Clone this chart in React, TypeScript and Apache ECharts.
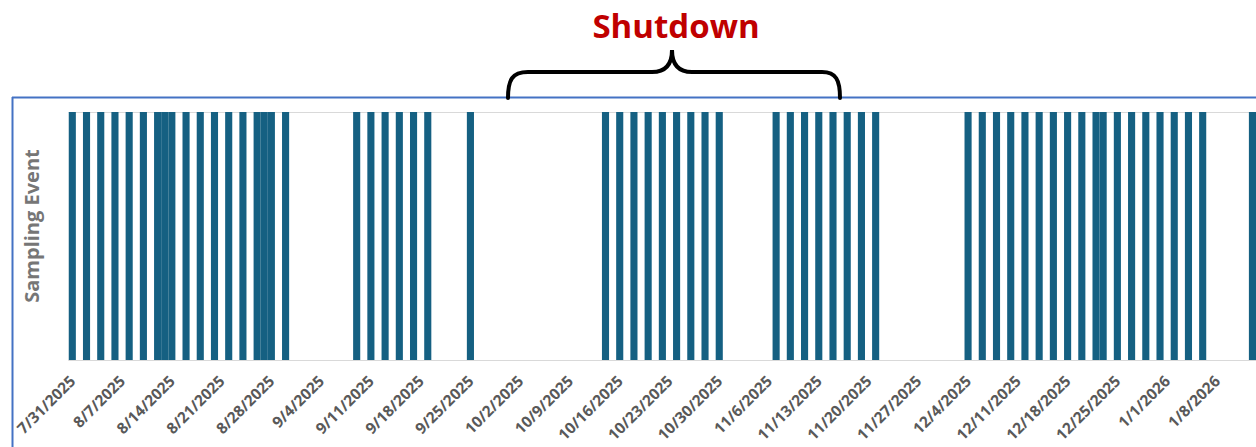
import React, { useEffect, useRef } from "react";
import * as echarts from "echarts";

// ---- data ----
const AXIS_START = { y: 2025, m: 7, d: 31 }; // first day on the date axis
const AXIS_END = { y: 2026, m: 1, d: 13 }; // last day on the date axis
const TICK_LABEL_EVERY = 7; // a tick label every 7 days, starting at the first day

const SAMPLING_DATES: string[] = [
  "7/31/2025", "8/2/2025", "8/4/2025", "8/6/2025", "8/8/2025", "8/10/2025",
  "8/12/2025", "8/13/2025", "8/14/2025", "8/16/2025", "8/18/2025", "8/20/2025",
  "8/22/2025", "8/24/2025", "8/26/2025", "8/27/2025", "8/28/2025", "8/30/2025",
  "9/9/2025", "9/11/2025", "9/13/2025", "9/15/2025", "9/17/2025", "9/19/2025",
  "9/25/2025",
  "10/14/2025", "10/16/2025", "10/18/2025", "10/20/2025", "10/22/2025",
  "10/24/2025", "10/26/2025", "10/28/2025", "10/30/2025",
  "11/7/2025", "11/9/2025", "11/11/2025", "11/13/2025", "11/15/2025",
  "11/17/2025", "11/19/2025", "11/21/2025",
  "12/4/2025", "12/6/2025", "12/8/2025", "12/10/2025", "12/12/2025",
  "12/14/2025", "12/16/2025", "12/18/2025", "12/20/2025", "12/22/2025",
  "12/23/2025", "12/25/2025", "12/27/2025", "12/29/2025", "12/31/2025",
  "1/2/2026", "1/4/2026", "1/6/2026", "1/13/2026",
];

const Y_AXIS_TITLE = "Sampling Event";
const ANNOTATION_TEXT = "Shutdown";

// ---- brace shape ----
const BRACE_D =
  "M 508 98 C 508 80 512 72 528 72 L 652 72 C 665 72 672 65 672 50 " +
  "C 672 65 679 72 692 72 L 822 72 C 836 72 840 80 840 98";
echarts.graphic.registerShape("brace", echarts.graphic.extendPath(BRACE_D, {}));

function buildCategories(): string[] {
  const out: string[] = [];
  const cur = new Date(Date.UTC(AXIS_START.y, AXIS_START.m - 1, AXIS_START.d));
  const end = Date.UTC(AXIS_END.y, AXIS_END.m - 1, AXIS_END.d);
  while (cur.getTime() <= end) {
    out.push(`${cur.getUTCMonth() + 1}/${cur.getUTCDate()}/${cur.getUTCFullYear()}`);
    cur.setUTCDate(cur.getUTCDate() + 1);
  }
  return out;
}

export default function App() {
  const ref = useRef<HTMLDivElement>(null);

  useEffect(() => {
    if (!ref.current) return;
    const chart = echarts.init(ref.current, undefined, { renderer: "svg" });
    const categories = buildCategories();
    const sampled = new Set(SAMPLING_DATES);
    const values = categories.map((c) => (sampled.has(c) ? 1 : null));

    chart.setOption({
      animation: false,
      grid: {
        left: 68.75,
        right: 0,
        top: 112,
        bottom: 87,
        containLabel: false,
        outerBoundsMode: "none",
      },
      xAxis: {
        type: "category",
        data: categories,
        boundaryGap: true,
        axisLine: { lineStyle: { color: "#d9d9d9", width: 1 } },
        axisTick: { show: false },
        axisLabel: {
          interval: TICK_LABEL_EVERY - 1,
          rotate: 45,
          align: "right",
          verticalAlign: "middle",
          margin: 18,
          color: "#595959",
          fontWeight: "bold",
          fontSize: 15.5,
          fontFamily: "Open Sans",
        },
      },
      yAxis: {
        type: "value",
        min: 0,
        max: 1,
        interval: 1,
        axisLabel: { show: false },
        axisLine: { show: false },
        axisTick: { show: false },
        splitLine: { lineStyle: { color: "#d9d9d9", width: 1 } },
      },
      series: [
        {
          type: "bar",
          data: values,
          barCategoryGap: "0%",
          itemStyle: { color: "#156082" },
          silent: true,
        },
      ],
      graphic: [
        {
          type: "line",
          shape: { x1: 12, y1: 97.5, x2: 1256, y2: 97.5 },
          style: { stroke: "#4472C4", lineWidth: 2 },
          silent: true,
        },
        {
          type: "line",
          shape: { x1: 12.5, y1: 97, x2: 12.5, y2: 447 },
          style: { stroke: "#4472C4", lineWidth: 2 },
          silent: true,
        },
        {
          type: "text",
          x: 31,
          y: 226,
          rotation: Math.PI / 2,
          style: {
            text: Y_AXIS_TITLE,
            fill: "#767676",
            font: "bold 20px 'Open Sans'",
            textAlign: "center",
            textVerticalAlign: "middle",
          },
          silent: true,
        },
        {
          type: "text",
          x: 676,
          y: 25,
          style: {
            text: ANNOTATION_TEXT,
            fill: "#C00000",
            font: "bold 33px 'Open Sans'",
            textAlign: "center",
            textVerticalAlign: "middle",
          },
          silent: true,
        },
        {
          type: "brace",
          x: 0,
          y: 0,
          style: { stroke: "#000000", lineWidth: 4, fill: "none", lineCap: "round" },
          silent: true,
        },
      ],
    });

    return () => chart.dispose();
  }, []);

  return (
    <div
      ref={ref}
      style={{ position: "absolute", left: 0, top: 0, width: 1256, height: 447 }}
    />
  );
}
